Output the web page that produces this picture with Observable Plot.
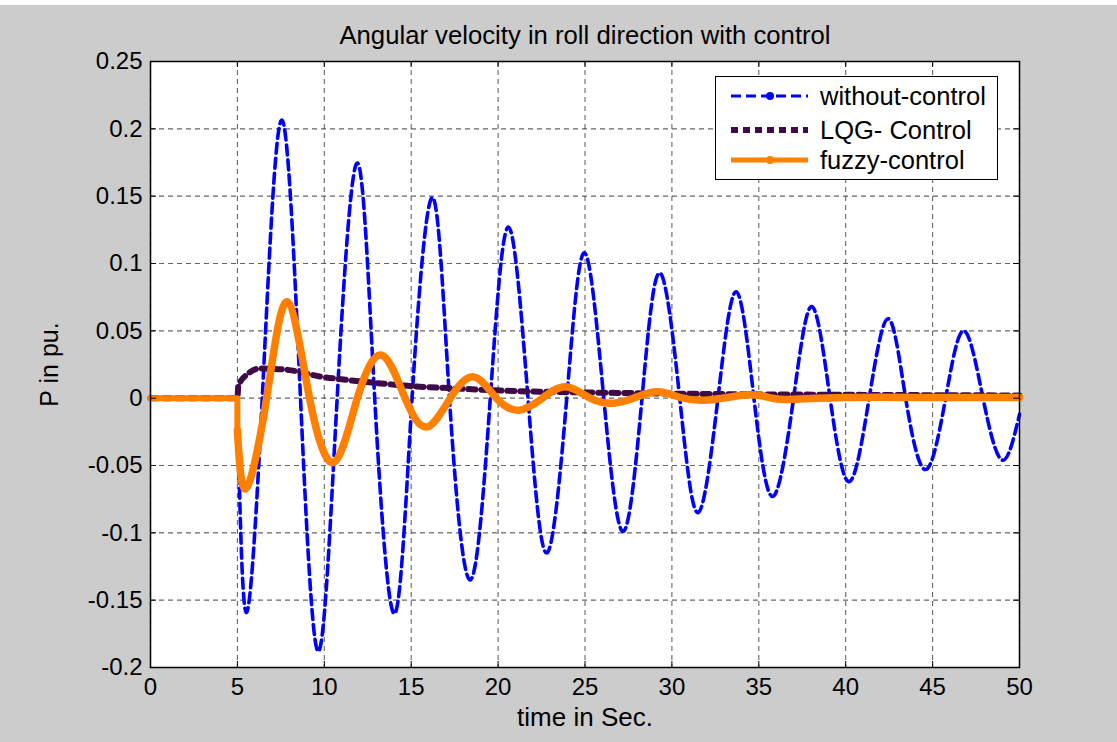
<!DOCTYPE html>
<html>
<head>
<meta charset="utf-8">
<script src="https://cdn.jsdelivr.net/npm/d3@7"></script>
<script src="https://cdn.jsdelivr.net/npm/@observablehq/plot@0.6"></script>
<style>
  html, body { margin: 0; padding: 0; background: #ffffff; }
  #wrap { position: relative; width: 1117px; height: 742px; background: #cccccc; overflow: hidden; }
  #topstrip { position: absolute; left: 0; top: 0; width: 1117px; height: 5px; background: #ffffff; }
  #legend { position: absolute; left: 715px; top: 76px; width: 283px; height: 104px; background: #ffffff;
            border: 1.5px solid #000; box-sizing: border-box; font-family: "Liberation Sans", Arial, sans-serif; }
  #legend svg { position: absolute; left: 0; top: 0; }
</style>
</head>
<body>
<div id="wrap"><div id="topstrip"></div></div>
<script>
// ---- chart text ----
const titleText = "Angular velocity in roll direction with control";
const xLabelText = "time in Sec.";
const yLabelText = "P in pu.";
const seriesNames = ["without-control", "LQG- Control", "fuzzy-control"];
const seriesColors = ["#0000ff", "#3f0a48", "#ff8000"];

// ---- ticks ----
const xTicks = [0, 5, 10, 15, 20, 25, 30, 35, 40, 45, 50];
const xTickLabels = ["0", "5", "10", "15", "20", "25", "30", "35", "40", "45", "50"];
const yTicks = [-0.2, -0.15, -0.1, -0.05, 0, 0.05, 0.1, 0.15, 0.2, 0.25];
const yTickLabels = ["-0.2", "-0.15", "-0.1", "-0.05", "0", "0.05", "0.1", "0.15", "0.2", "0.25"];

// ---- without-control (blue) : flat part then oscillation ----
const blueFlatT = [0, 5];
const blueFlatV = [0, 0];
const blueT = [5, 5.5, 6.43, 7.54, 8.63, 9.67, 10.74, 11.91, 12.9, 14.04, 15.05, 16.23, 17.2, 18.4, 19.55, 20.6,
  21.72, 22.8, 23.95, 24.97, 26.08, 27.2, 28.28, 29.3, 30.45, 31.5, 32.65, 33.7, 34.72, 35.8, 37.0, 38.05,
  39.1, 40.2, 41.35, 42.45, 43.45, 44.6, 45.75, 46.8, 47.9, 49.0, 50];
const blueV = [0, -0.159, 0, 0.2065, 0, -0.188, 0, 0.1746, 0, -0.16, 0, 0.149, 0, -0.135, 0, 0.127,
  0, -0.115, 0, 0.108, 0, -0.099, 0, 0.093, 0, -0.085, 0, 0.079, 0, -0.073, 0, 0.068,
  0, -0.062, 0, 0.059, 0, -0.053, 0, 0.05, 0, -0.046, -0.012];

// ---- LQG control (dark purple) ----
const lqgT = [0, 5, 5.05, 5.6, 6.3, 7.9, 9.8, 11.7, 13.6, 15.5, 17.3, 20.5, 25.3, 29.2, 33, 40, 50];
const lqgV = [0, 0, 0.009, 0.018, 0.022, 0.021, 0.016, 0.013, 0.0105, 0.0085, 0.0074, 0.0055, 0.0042, 0.0035, 0.003, 0.0025, 0.002];

// ---- fuzzy control (orange) : flat part then oscillation ----
const fuzzyFlatT = [0, 5, 5];
const fuzzyFlatV = [0, 0, -0.024];
const fuzzyT = [5, 5.5, 6.68, 7.86, 9.15, 10.55, 11.9, 13.3, 14.65, 15.9, 17.25, 18.6, 19.9, 21.2, 22.55, 23.9,
  25.3, 26.65, 27.9, 29.2, 30.5, 31.8, 33.2, 34.5, 35.6, 36.6, 40, 45, 50];
const fuzzyV = [-0.024, -0.067, 0, 0.0716, 0, -0.0476, 0, 0.032, 0, -0.0213, 0, 0.0158, 0, -0.0089, 0, 0.0084,
  0, -0.0037, 0.0005, 0.0047, 0.0005, -0.0015, 0.0005, 0.0025, 0.0005, -0.001, 0.0005, 0.0005, 0.0005];

const toRows = (T, V) => T.map((t, i) => ({t, v: V[i]}));
const blueFlat = toRows(blueFlatT, blueFlatV);
const blue = toRows(blueT, blueV);
const lqg = toRows(lqgT, lqgV);
const fuzzyFlat = toRows(fuzzyFlatT, fuzzyFlatV);
const fuzzy = toRows(fuzzyT, fuzzyV);

const W = 1117, H = 742;
const mL = 150, mR = 98, mT = 61, mB = 75;
const plotW = W - mL - mR, plotH = H - mT - mB;
const font = "'Liberation Sans', Arial, sans-serif";

const chart = Plot.plot({
  width: W, height: H,
  marginLeft: mL, marginRight: mR, marginTop: mT, marginBottom: mB,
  style: {background: "transparent", fontFamily: font, fontSize: "24px", color: "#000", overflow: "visible"},
  x: {domain: [0, 50], ticks: xTicks},
  y: {domain: [-0.2, 0.25], ticks: yTicks},
  marks: [
    Plot.frame({fill: "#ffffff", stroke: null}),
    Plot.gridX(xTicks, {stroke: "#333", strokeOpacity: 0.75, strokeDasharray: "5,4", strokeWidth: 1.1}),
    Plot.gridY(yTicks, {stroke: "#333", strokeOpacity: 0.75, strokeDasharray: "5,4", strokeWidth: 1.1}),
    // without-control
    Plot.line(blueFlat, {x: "t", y: "v", stroke: seriesColors[0], strokeWidth: 3.4, strokeDasharray: "10,5"}),
    Plot.line(blue, {x: "t", y: "v", curve: "natural", stroke: seriesColors[0], strokeWidth: 3.6, strokeDasharray: "10,5"}),
    // LQG
    Plot.line(lqg, {x: "t", y: "v", curve: "monotone-x", stroke: seriesColors[1], strokeWidth: 6, strokeDasharray: "7,6"}),
    // fuzzy
    Plot.line(fuzzyFlat, {x: "t", y: "v", stroke: seriesColors[2], strokeWidth: 6}),
    Plot.line(fuzzy, {x: "t", y: "v", curve: "natural", stroke: seriesColors[2], strokeWidth: 7.5}),
    // frame and inward ticks
    Plot.frame({stroke: "#000", strokeWidth: 1.5}),
    Plot.tickX(xTicks, {x: d => d, stroke: "#000", insetTop: plotH - 6}),
    Plot.tickX(xTicks, {x: d => d, stroke: "#000", insetBottom: plotH - 6}),
    Plot.tickY(yTicks, {y: d => d, stroke: "#000", insetRight: plotW - 6}),
    Plot.tickY(yTicks, {y: d => d, stroke: "#000", insetLeft: plotW - 6}),
    Plot.axisX(xTicks, {tickSize: 0, tickPadding: 10, tickFormat: d => xTickLabels[xTicks.indexOf(d)], label: null, fontSize: 24}),
    Plot.axisY(yTicks, {tickSize: 0, tickPadding: 8, tickFormat: d => yTickLabels[yTicks.indexOf(d)], label: null, fontSize: 24}),
    Plot.text([titleText], {frameAnchor: "top", dy: -26, lineAnchor: "middle", textAnchor: "middle", fontSize: 25.7, text: d => d}),
    Plot.text([xLabelText], {frameAnchor: "bottom", dy: 50, lineAnchor: "middle", textAnchor: "middle", fontSize: 26, text: d => d}),
    Plot.text([yLabelText], {frameAnchor: "left", dx: -101, rotate: -90, lineAnchor: "middle", textAnchor: "middle", fontSize: 25, text: d => d})
  ]
});
document.getElementById("wrap").appendChild(chart);

// ---- legend ----
const lg = document.createElement("div");
lg.id = "legend";
const rowsY = [19, 53, 83];
const styles = [
  {w: 3.2, dash: "10,5", dot: true},
  {w: 6, dash: "7,5", dot: false},
  {w: 5, dash: null, dot: true}
];
let s = `<svg width="283" height="104" xmlns="http://www.w3.org/2000/svg">`;
seriesNames.forEach((name, i) => {
  const y = rowsY[i], st = styles[i];
  s += `<line x1="15" x2="92" y1="${y}" y2="${y}" stroke="${seriesColors[i]}" stroke-width="${st.w}" ${st.dash ? `stroke-dasharray="${st.dash}"` : ""}/>`;
  if (st.dot) s += `<circle cx="54" cy="${y}" r="4" fill="${seriesColors[i]}"/>`;
  s += `<text x="104" y="${y}" dy="0.35em" font-size="25.5" font-family="${font.replace(/'/g, "")}" fill="#000">${name}</text>`;
});
s += `</svg>`;
lg.innerHTML = s;
document.getElementById("wrap").appendChild(lg);
chart.style.position = "absolute";
chart.style.left = "0px";
chart.style.top = "0px";
</script>
</body>
</html>
